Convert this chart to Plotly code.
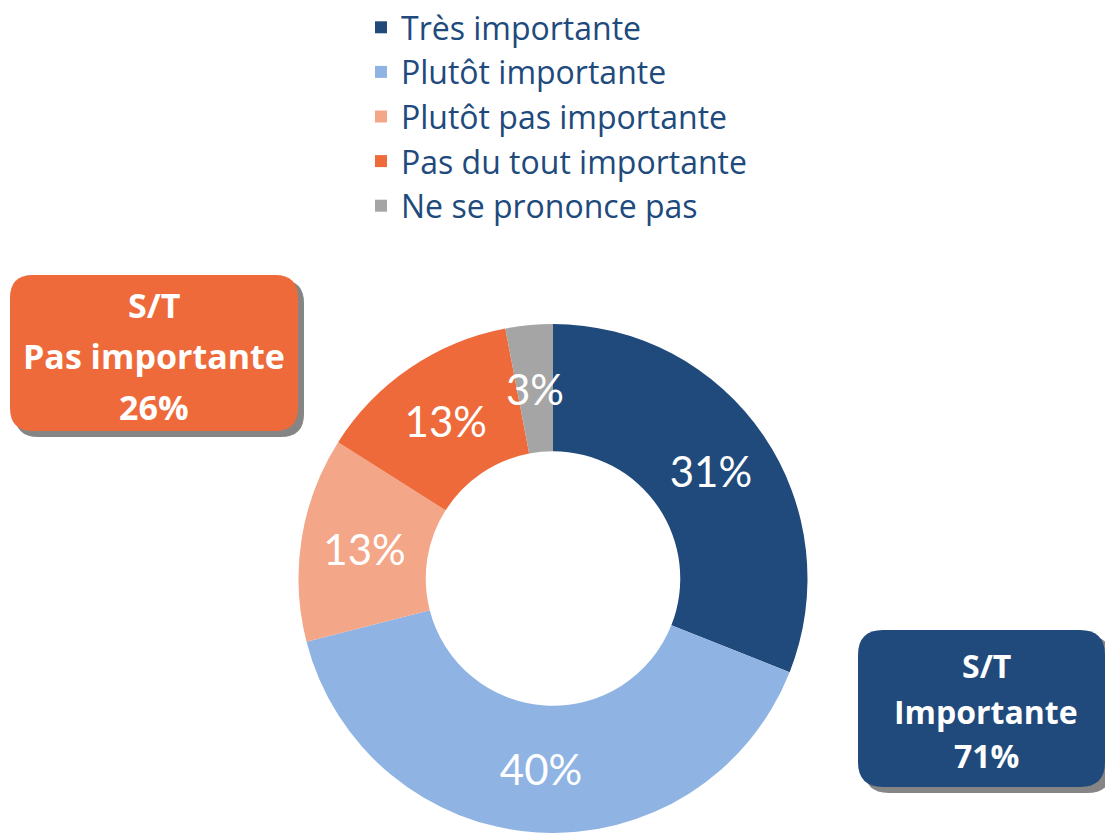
import math
import plotly.graph_objects as go

labels = ["Très importante", "Plutôt importante", "Plutôt pas importante",
          "Pas du tout importante", "Ne se prononce pas"]
values = [31, 40, 13, 13, 3]
colors = ["#204A7C", "#8FB4E3", "#F4A688", "#EE6A3A", "#A5A5A5"]

box_neg_lines = ["S/T", "Pas importante", "26%"]
box_pos_lines = ["S/T", "Importante", "71%"]

W, H = 1105, 833
FONT = "Lato"
FONT2 = "Open Sans"


def px(x):
    return x / W


def py(y):
    return 1 - y / H


def rounded_rect(x0, y0, x1, y1, r):
    rx, ry = r / W, r / H
    X0, X1 = px(x0), px(x1)
    Y0, Y1 = py(y0), py(y1)
    return (f"M {X0+rx},{Y0} L {X1-rx},{Y0} Q {X1},{Y0} {X1},{Y0-ry} "
            f"L {X1},{Y1+ry} Q {X1},{Y1} {X1-rx},{Y1} "
            f"L {X0+rx},{Y1} Q {X0},{Y1} {X0},{Y1+ry} "
            f"L {X0},{Y0-ry} Q {X0},{Y0} {X0+rx},{Y0} Z")


# pie geometry (pixels)
CX, CY, R = 553, 580, 256
HOLE = 0.5

textpos = ["inside"] * (len(values) - 1) + ["none"]

fig = go.Figure()
fig.add_trace(go.Pie(
    labels=labels,
    values=values,
    marker=dict(colors=colors, line=dict(width=0)),
    hole=HOLE,
    sort=False,
    direction="clockwise",
    rotation=0,
    textinfo="percent",
    textposition=textpos,
    insidetextorientation="horizontal",
    textfont=dict(family=FONT, size=42, color="white"),
    domain=dict(x=[px(CX - R), px(CX + R)], y=[max(0, py(CY + R)), py(CY - R)]),
))

# label for the thin last slice, placed at its mid-angle on the ring middle
total = sum(values)
mid = (sum(values[:-1]) + values[-1] / 2) / total
theta = 2 * math.pi * mid
rm = R * (1 + HOLE) / 2
lx = CX + rm * math.sin(theta)
ly = CY - rm * math.cos(theta)

shapes = []
shapes.append(dict(type="path", xref="paper", yref="paper",
                   path=rounded_rect(15, 280, 304, 437, 23),
                   fillcolor="#858585", line=dict(width=0), layer="below"))
shapes.append(dict(type="path", xref="paper", yref="paper",
                   path=rounded_rect(10, 275, 298, 431, 23),
                   fillcolor="#EE6A3A", line=dict(width=0), layer="below"))
shapes.append(dict(type="path", xref="paper", yref="paper",
                   path=rounded_rect(864, 636, 1112, 793, 25),
                   fillcolor="#858585", line=dict(width=0), layer="below"))
shapes.append(dict(type="path", xref="paper", yref="paper",
                   path=rounded_rect(858, 630, 1105, 787, 25),
                   fillcolor="#204A7C", line=dict(width=0), layer="below"))

annotations = [dict(text=f"{round(100 * values[-1] / total)}%", x=px(lx), y=py(ly),
                    xref="paper", yref="paper", showarrow=False,
                    xanchor="center", yanchor="middle",
                    font=dict(family=FONT, size=42, color="white"))]
for txt, yy in zip(box_neg_lines, [305, 356, 407]):
    annotations.append(dict(text=f"<b>{txt}</b>", x=px(154), y=py(yy),
                            xref="paper", yref="paper", showarrow=False,
                            xanchor="center", yanchor="middle",
                            font=dict(family=FONT2, size=34, color="white")))
for txt, yy in zip(box_pos_lines, [665, 711, 755]):
    annotations.append(dict(text=f"<b>{txt}</b>", x=px(986), y=py(yy),
                            xref="paper", yref="paper", showarrow=False,
                            xanchor="center", yanchor="middle",
                            font=dict(family=FONT2, size=32, color="white")))

fig.update_layout(
    width=W, height=H,
    margin=dict(l=0, r=0, t=0, b=0),
    paper_bgcolor="white",
    plot_bgcolor="white",
    showlegend=True,
    legend=dict(x=px(361), y=1.0, xanchor="left", yanchor="top",
                font=dict(family=FONT2, size=32, color="#204A7C"),
                traceorder="normal", tracegroupgap=0,
                bgcolor="rgba(0,0,0,0)"),
    uniformtext=dict(minsize=42, mode="show"),
    shapes=shapes,
    annotations=annotations,
)

fig.write_html("out.html",
               config={"displayModeBar": False},
               post_script="document.body.style.margin='0';"
                           "document.body.style.overflow='hidden';")
